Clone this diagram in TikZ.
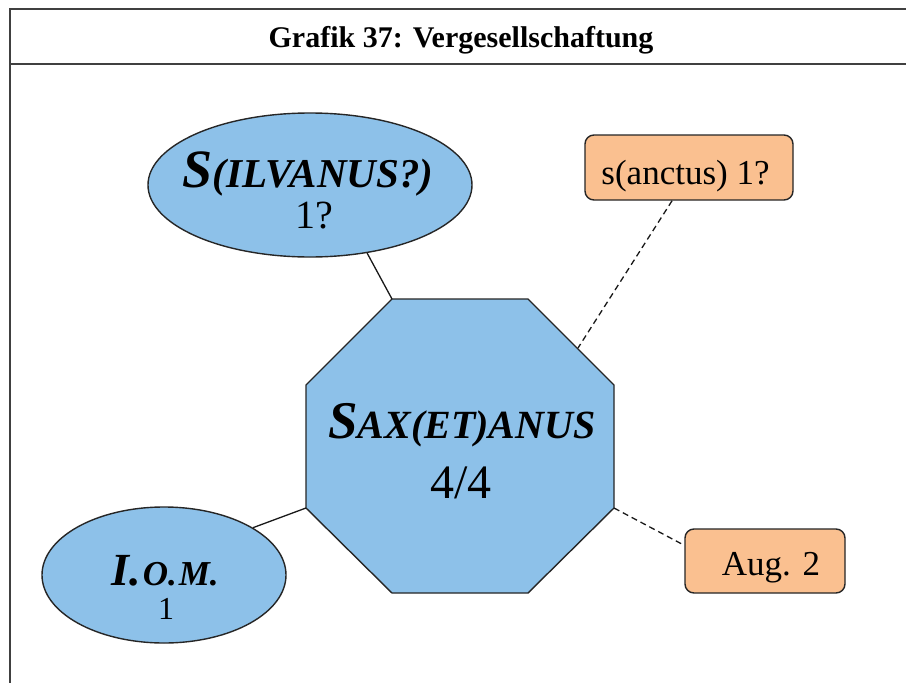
\documentclass[tikz,border=0pt]{standalone}
\usepackage{fontspec}
\setmainfont{Liberation Serif}
\usetikzlibrary{shapes.geometric}
\definecolor{nodeblue}{RGB}{141,193,233}
\definecolor{boxorange}{RGB}{250,192,144}
\newcommand\ctr[3]{\raisebox{-#2}[0pt][0pt]{\makebox[0pt]{\hspace*{#1}#3}}}
\newcommand\fs[1]{\fontsize{#1}{#1}\selectfont}
\begin{document}
\begin{tikzpicture}[x=1pt,y=-1pt,
  frameline/.style={draw=black!75, line width=1.5pt},
  shapeborder/.style={draw=black!85, line width=1.4pt, fill=nodeblue},
  blueell/.style={ellipse, shapeborder, inner sep=0pt},
  orangebox/.style={rectangle, rounded corners=9pt, draw=black!85, line width=1.4pt, fill=boxorange, inner sep=0pt},
  solidlink/.style={draw=black!90, line width=1.3pt},
  dashlink/.style={draw=black!90, line width=1.3pt, dash pattern=on 6pt off 4pt}]
\useasboundingbox (0,0) rectangle (906,683);
\fill[white] (0,0) rectangle (906,683);
% frame
\draw[frameline] (10,683) -- (10,9) -- (906,9);
\draw[frameline] (10,64) -- (906,64);
\node[anchor=base, font=\bfseries\fs{30pt}, inner sep=0pt] (title) at (461,47) {Grafik 37: Vergesellschaftung};
% octagon corners
\coordinate (o1) at (392,299);
\coordinate (o2) at (528,299);
\coordinate (o3) at (614,385);
\coordinate (o4) at (614,508);
\coordinate (o5) at (528,593);
\coordinate (o6) at (392,593);
\coordinate (o7) at (306,508);
\coordinate (o8) at (306,385);
\coordinate (one) at (578,348);
\draw[shapeborder, line join=miter] (o1) -- (o2) -- (o3) -- (o4) -- (o5) -- (o6) -- (o7) -- (o8) -- cycle;
% nodes
\node[inner sep=0pt] (sax) at (460,446)
  {\ctr{4pt}{-8pt}{\bfseries\itshape\fs{53pt}S\fs{40pt}AX(ET)ANUS}\ctr{2pt}{52pt}{\fs{48pt}4/4}};
\node[blueell, minimum width=324pt, minimum height=144pt] (sil) at (310,185)
  {\ctr{-4pt}{2pt}{\bfseries\itshape\fs{54pt}S\fs{41pt}(ILVANUS?)}\ctr{8pt}{43pt}{\fs{40pt}1?}};
\node[blueell, minimum width=244pt, minimum height=136pt] (iom) at (164,575)
  {\ctr{2pt}{10pt}{\bfseries\itshape\fs{46pt}I.\kern2pt\fs{35pt}O.\kern2pt M.}\ctr{4pt}{44pt}{\fs{32pt}1}};
\node[orangebox, minimum width=208pt, minimum height=65pt] (sanc) at (689,167.5)
  {\ctr{-7pt}{16.5pt}{\fs{35pt}s(anctus) 1?}};
\node[orangebox, minimum width=160pt, minimum height=64pt] (aug) at (765,561)
  {\ctr{12pt}{14pt}{\fs{35pt}Aug. 2}};
% connectors
\draw[solidlink] (sil.310) -- (o1);
\draw[solidlink] (iom.28.6) -- (o7);
\draw[dashlink] (sanc.243.8) -- (one);
\draw[dashlink] (o4) -- (aug.169.1);
\end{tikzpicture}
\end{document}
